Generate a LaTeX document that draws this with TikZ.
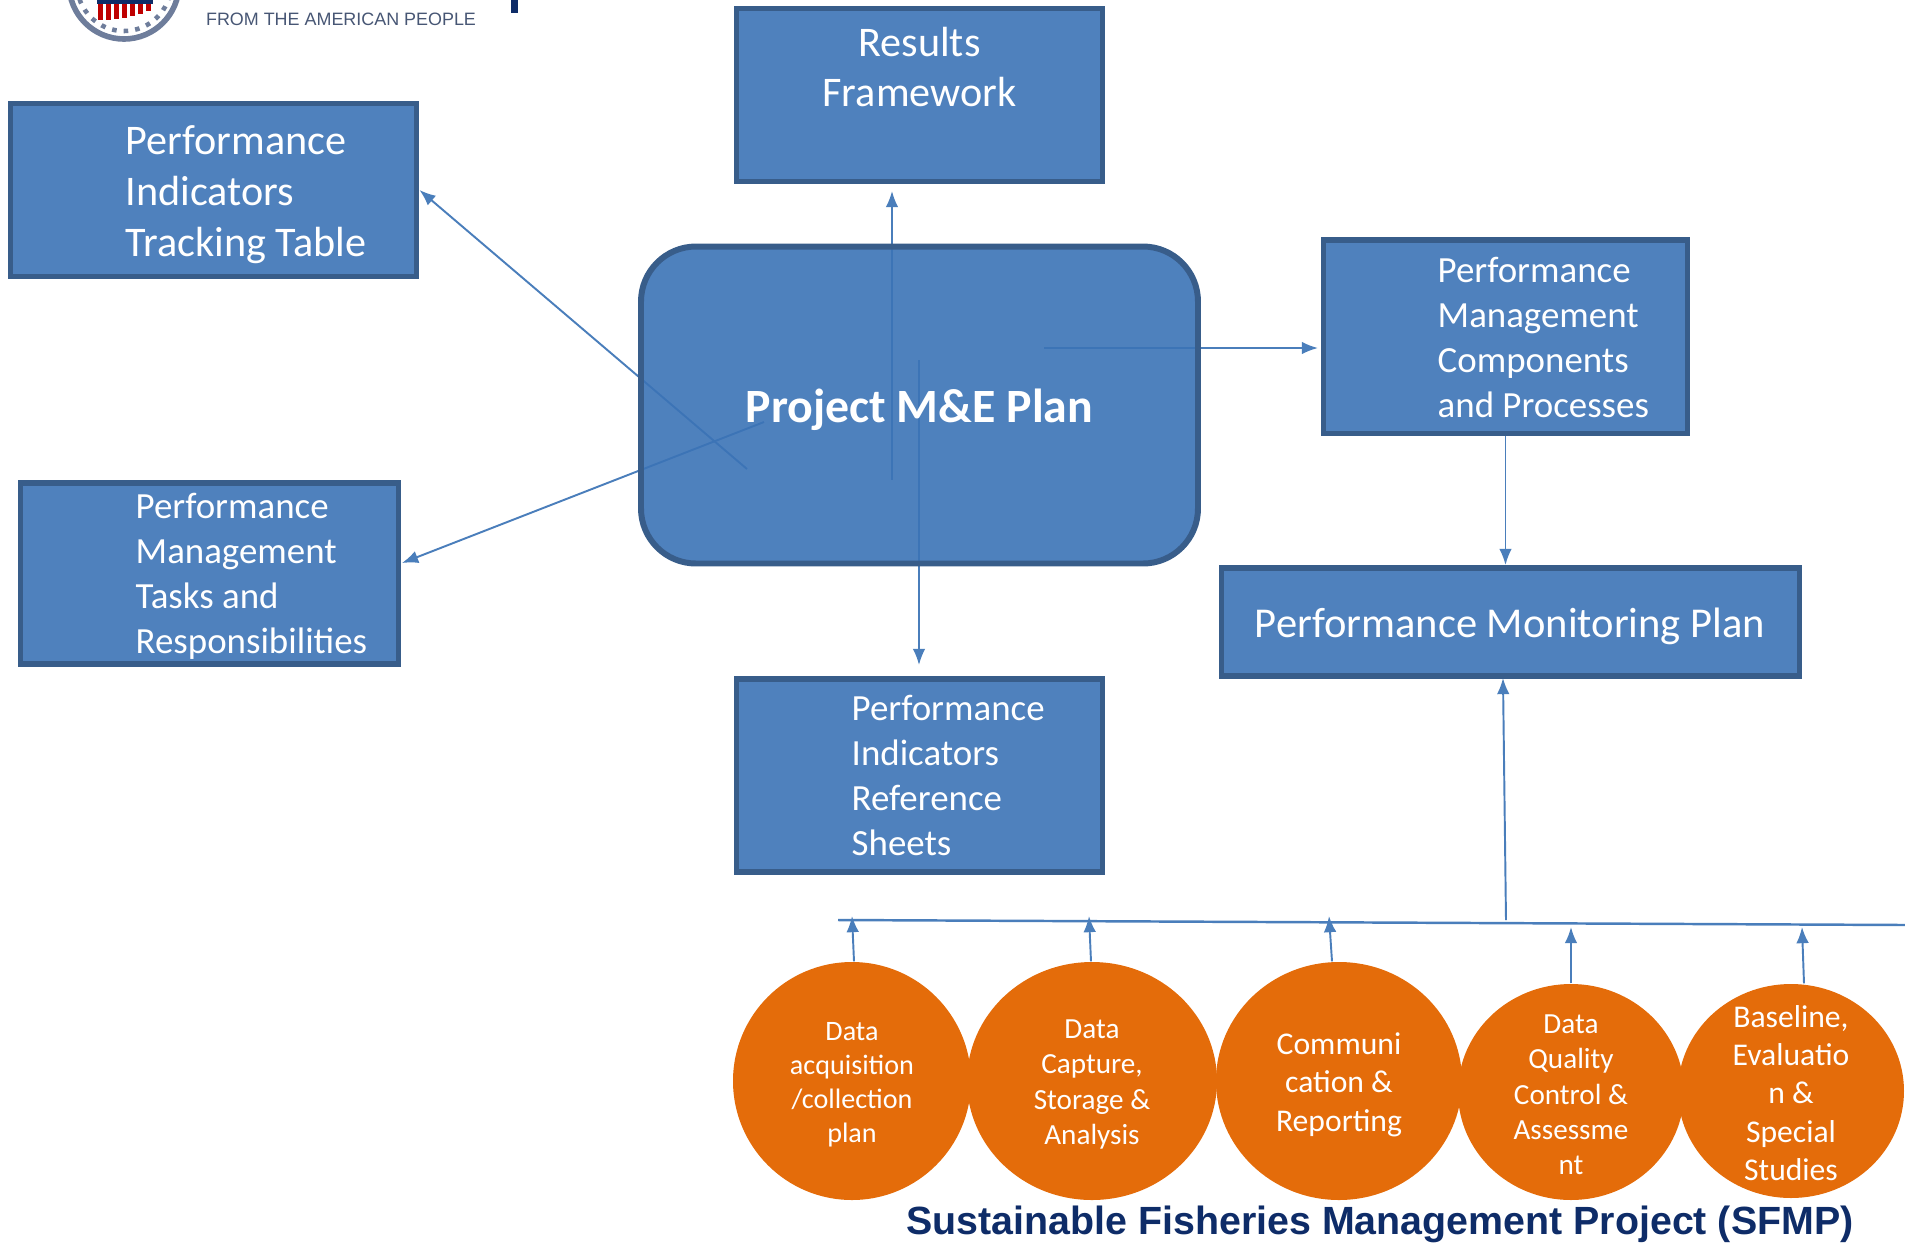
\documentclass[tikz,border=0pt]{standalone}
\usepackage{fontspec}
\setmainfont{Carlito}
\newfontfamily\logofont{Liberation Sans}
\usepackage{xcolor}
\usetikzlibrary{positioning, calc, arrows.meta, backgrounds, shapes.geometric}

\definecolor{myblue}{RGB}{79, 129, 189}
\definecolor{myblueunder}{RGB}{59, 115, 182}
\definecolor{myborder}{RGB}{56, 93, 138}
\definecolor{myline}{RGB}{74, 126, 187}
\definecolor{myorange}{RGB}{228, 108, 10}
\definecolor{mynavy}{RGB}{14, 44, 104}
\definecolor{myseal}{RGB}{110, 125, 155}

\tikzset{
    bluebox/.style={rectangle, draw=myborder, line width=1.7pt, fill=myblue, inner sep=0pt, text=white},
    planbox/.style={rectangle, rounded corners=5.5mm, draw=myborder, line width=1.7pt, fill=myblueunder, fill opacity=0.9},
    boxtext/.style={anchor=west, align=left, inner sep=0pt, text=white, font=\fontsize{12}{14.5}\selectfont},
    smalltext/.style={boxtext, font=\fontsize{10.5}{12.8}\selectfont},
    stepcircle/.style={ellipse, fill=myorange, inner sep=0pt},
    steptext/.style={align=center, inner sep=0pt, text=white},
    flow/.style={-{Latex[length=4.6pt,width=3.6pt]}, line width=0.55pt, myline}
}

\begin{document}
\begin{tikzpicture}[x=0.1mm, y=-0.1mm]
    \useasboundingbox (0,0) rectangle (1905,1242);

    % Logo o tren
    \begin{scope}
        \clip (0,0) rectangle (1905,1242);
        \draw[line width=1.6pt, myseal] (124,-16) circle (55);
        \draw[line width=1.3pt, dotted, myseal] (124,-16) circle (47);
        \foreach \x in {0,...,6} {
            \fill[red!75!black] (98+\x*8,0) rectangle (103+\x*8,20-\x*\x*0.25);
        }
        \fill[mynavy] (97,0) rectangle (153,4);
        \fill[mynavy] (511,0) rectangle (518,13);
    \end{scope}
    \node[inner sep=0pt, text=gray!50!mynavy, font=\logofont\fontsize{5.1}{6}\selectfont] (usaid) at (341,19) {FROM THE AMERICAN PEOPLE};

    % Cac o chinh
    \node[bluebox, minimum width=36.6cm/10, minimum height=17.3cm/10] (results) at (919.5,95) {};
    \node[bluebox, minimum width=40.6cm/10, minimum height=17.3cm/10] (tracking) at (213.5,190) {};
    \node[bluebox, minimum width=36.4cm/10, minimum height=19.4cm/10] (components) at (1505.5,336.5) {};
    \node[bluebox, minimum width=37.8cm/10, minimum height=18.1cm/10] (tasks) at (209.5,573) {};
    \node[bluebox, minimum width=57.8cm/10, minimum height=10.8cm/10] (monitoring) at (1510.5,622) {};
    \node[bluebox, minimum width=36.6cm/10, minimum height=19.3cm/10] (sheets) at (919.5,775) {};
    \node[planbox, minimum width=55.7cm/10, minimum height=31.7cm/10] (plan) at (919.5,405) {};

    % Chu trong cac o
    \node[boxtext, align=center, anchor=center] (resultsText) at (919.5,67) {Results\\Framework};
    \node[boxtext] (trackingText) at (125,195) {Performance\\Indicators\\Tracking Table};
    \node[smalltext] (componentsText) at (1437,337) {Performance\\Management\\Components\\and Processes};
    \node[smalltext] (tasksText) at (135,576) {Performance\\Management\\Tasks and\\Responsibilities};
    \node[smalltext] (sheetsText) at (851,775) {Performance\\Indicators\\Reference\\Sheets};
    \node[boxtext, anchor=center, font=\fontsize{12.1}{15}\selectfont] (monitoringText) at (1510,626) {Performance Monitoring Plan};
    \node[boxtext, anchor=center, font=\fontsize{13.6}{16}\selectfont\bfseries] (planText) at (919.5,410) {Project M\&E Plan};

    % Cac hinh tron
    \node[stepcircle, minimum width=23.8cm/10, minimum height=23.8cm/10, label={[steptext, yshift=-1pt, font=\fontsize{8}{9.7}\selectfont]center:{Data\\acquisition\\/collection\\plan}}] (acquisition) at (852,1081) {};
    \node[stepcircle, minimum width=25cm/10, minimum height=23.8cm/10, label={[steptext, yshift=-1pt, font=\fontsize{8.3}{10}\selectfont]center:{Data\\Capture,\\Storage \&\\Analysis}}] (capture) at (1092,1081) {};
    \node[stepcircle, minimum width=24.6cm/10, minimum height=23.8cm/10, label={[steptext, yshift=-1pt, font=\fontsize{9}{11}\selectfont]center:{Communi\\cation \&\\Reporting}}] (reporting) at (1339,1081) {};
    \node[stepcircle, minimum width=22.6cm/10, minimum height=21.6cm/10, label={[steptext, yshift=-0.8pt, font=\fontsize{8.3}{10}\selectfont]center:{Data\\Quality\\Control \&\\Assessme\\nt}}] (quality) at (1571,1092) {};
    \node[stepcircle, minimum width=22.6cm/10, minimum height=21.4cm/10, label={[steptext, yshift=-0.6pt, font=\fontsize{9}{10.9}\selectfont]center:{Baseline,\\Evaluatio\\n \&\\Special\\Studies}}] (baseline) at (1791,1091) {};

    \node[inner sep=0pt, text=mynavy, font=\logofont\fontsize{11.2}{12}\selectfont\bfseries] (project) at (1380,1224) {Sustainable Fisheries Management Project (SFMP)};

    % Cac diem dau mut
    \coordinate (upStart) at (892,480);
    \coordinate (upEnd) at (892,191);
    \coordinate (downStart) at (919,360);
    \coordinate (downEnd) at (919,665);
    \coordinate (rightStart) at (1044,348);
    \coordinate (rightEnd) at (1318,348);
    \coordinate (trackStart) at (747,469);
    \coordinate (taskStart) at (764,422);
    \coordinate (taskEnd) at (402,563);
    \coordinate (busLeft) at (838,920);
    \coordinate (busRight) at (1905,925);
    \coordinate (busUp) at (1506,920);
    \coordinate (monitorEnd) at (1503,678);

    % Cac mui ten
    \begin{pgfonlayer}{background}
        \draw[flow] (upStart) -- (upEnd);
        \draw[flow] (downStart) -- (downEnd);
        \draw[flow] (rightStart) -- (rightEnd);
        \draw[flow] (trackStart) -- (tracking.east);
        \draw[flow] (taskStart) -- (taskEnd);
    \end{pgfonlayer}
    \draw[flow] (components.south) -- (monitoring.north -| components.south);
    \draw[flow] (busUp) -- (monitorEnd);
    \draw[line width=0.7pt, myline] (busLeft) -- (busRight);

    \foreach \name/\tailx/\tipx/\tipy in {acquisition/854/852/916, capture/1091/1089/916, reporting/1332/1329/916, quality/1571/1571/927, baseline/1804/1802/927} {
        \draw[flow] (\tailx,0 |- \name.north) -- (\tipx,\tipy);
    }
\end{tikzpicture}
\end{document}
